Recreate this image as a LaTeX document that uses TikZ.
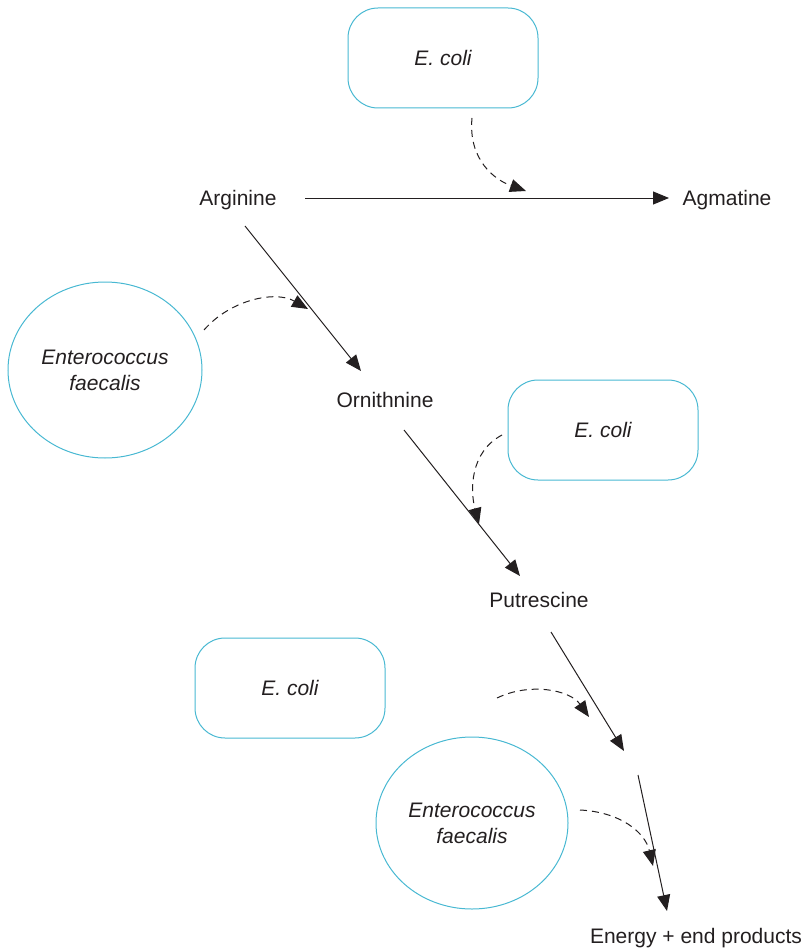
\documentclass[tikz,border=0pt]{standalone}
\usepackage{fontspec}
\setmainfont{Liberation Sans}
\usetikzlibrary{arrows.meta,shapes.geometric}
\definecolor{bact}{RGB}{72,184,210}
\definecolor{ink}{RGB}{35,31,32}
\begin{document}
\begin{tikzpicture}[x=1pt,y=-1pt,
  lbl/.style={font=\fontsize{21}{26}\selectfont, text=ink, inner sep=0pt},
  orgbox/.style={draw=bact, line width=1pt, rounded corners=30pt, minimum width=190pt, minimum height=100pt, font=\fontsize{21}{26}\selectfont\itshape, text=ink, align=center},
  orgell/.style={draw=bact, line width=1pt, ellipse, inner sep=0pt, font=\fontsize{21}{26}\selectfont\itshape, text=ink, align=center},
  flow/.style={draw=ink, line width=1pt, -{Triangle[length=16pt,width=13pt]}},
  assist/.style={draw=ink, line width=1pt, dash pattern=on 7pt off 5pt, -{Triangle[length=16pt,width=13pt]}}
]
\useasboundingbox (0,0) rectangle (804,952);

\node[orgbox] (ec1) at (443,58) {E. coli};
\node[orgbox] (ec2) at (603,430) {E. coli};
\node[orgbox] (ec3) at (290,688) {E. coli};
\node[orgell, minimum width=194pt, minimum height=176pt] (ef1) at (105,370) {Enterococcus\\faecalis};
\node[orgell, minimum width=192pt, minimum height=172pt] (ef2) at (472,823) {Enterococcus\\faecalis};

\node[lbl] (arg) at (238,200) {Arginine};
\node[lbl] (agm) at (727,200) {Agmatine};
\node[lbl] (orn) at (385,400) {Ornithnine};
\node[lbl] (put) at (539,600) {Putrescine};
\node[lbl] (end) at (696,938) {Energy + end products};

\coordinate (a1s) at (305,198);
\coordinate (a1e) at (669,198);
\coordinate (a2s) at (245,226);
\coordinate (a2e) at (361,371);
\coordinate (a3s) at (404,430);
\coordinate (a3e) at (520,576);
\coordinate (a4s) at (551,632);
\coordinate (a4e) at (624,751);
\coordinate (a5s) at (638,775);
\coordinate (a5e) at (667,911);

\draw[flow] (a1s) -- (a1e);
\draw[flow] (a2s) -- (a2e);
\draw[flow] (a3s) -- (a3e);
\draw[flow] (a4s) -- (a4e);
\draw[flow] (a5s) -- (a5e);

\coordinate (d1s) at (472,118);
\coordinate (d1e) at (526,191);
\coordinate (d2s) at (204,330);
\coordinate (d2e) at (308,309);
\coordinate (d3s) at (502,435);
\coordinate (d3e) at (479,524);
\coordinate (d4s) at (497,698);
\coordinate (d4e) at (589,717);
\coordinate (d5s) at (580,810);
\coordinate (d5e) at (653,866);

\draw[assist] (d1s) .. controls (468,160) and (495,180) .. (d1e);
\draw[assist] (d2s) .. controls (230,300) and (275,290) .. (d2e);
\draw[assist] (d3s) .. controls (470,452) and (470,490) .. (d3e);
\draw[assist] (d4s) .. controls (530,682) and (570,690) .. (d4e);
\draw[assist] (d5s) .. controls (620,812) and (645,832) .. (d5e);
\end{tikzpicture}
\end{document}
